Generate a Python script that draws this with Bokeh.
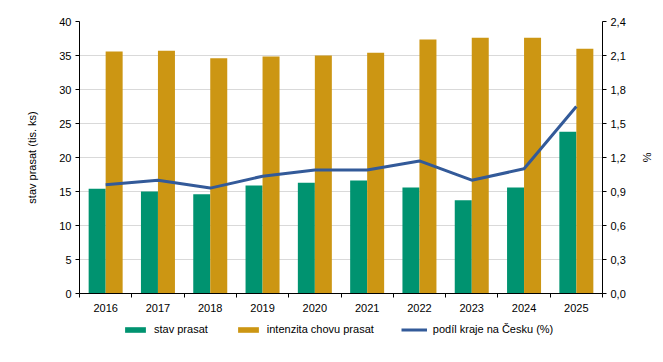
from bokeh.plotting import figure
from bokeh.layouts import column
from bokeh.models import (ColumnDataSource, Range1d, LinearAxis, FixedTicker,
                          CustomJSTickFormatter, Legend, LegendItem)
from bokeh.transform import dodge
from bokeh.embed import file_html
from bokeh.resources import INLINE

years = [2016, 2017, 2018, 2019, 2020, 2021, 2022, 2023, 2024, 2025]
stav_prasat = [15.4, 15.0, 14.6, 15.9, 16.3, 16.6, 15.6, 13.7, 15.6, 23.8]
intenzita = [35.6, 35.7, 34.6, 34.85, 35.0, 35.4, 37.35, 37.6, 37.6, 36.0]
podil = [0.96, 1.00, 0.93, 1.035, 1.09, 1.09, 1.17, 1.00, 1.10, 1.65]
left_ticks = [0, 5, 10, 15, 20, 25, 30, 35, 40]
right_ticks = [0.0, 0.3, 0.6, 0.9, 1.2, 1.5, 1.8, 2.1, 2.4]
series_names = ["stav prasat", "intenzita chovu prasat", "podíl kraje na Česku (%)"]

GREEN = "#009370"
ORANGE = "#cc9613"
BLUE = "#335a99"
FONT = "Liberation Sans"

src = ColumnDataSource(dict(year=years, stav=stav_prasat, intenz=intenzita, podil=podil))

p = figure(frame_width=523, frame_height=272, output_backend="svg", toolbar_location=None,
           x_range=Range1d(2015.5, 2025.5), y_range=Range1d(0, 40),
           min_border_left=79, min_border_right=52, min_border_top=21, min_border_bottom=28)
p.extra_y_ranges = {"pct": Range1d(0, 2.4)}

bw = 0.325
p.vbar(x=dodge("year", -bw / 2), top="stav", width=bw, source=src,
       fill_color=GREEN, line_color=None)
p.vbar(x=dodge("year", bw / 2), top="intenz", width=bw, source=src,
       fill_color=ORANGE, line_color=None)
p.line(x="year", y="podil", source=src, line_color=BLUE, line_width=3,
       y_range_name="pct")

p.outline_line_color = None
p.xgrid.grid_line_color = None
p.ygrid.grid_line_color = "#d9d9d9"
p.ygrid.ticker = FixedTicker(ticks=left_ticks)

# x axis
xa = p.xaxis[0]
xa.ticker = FixedTicker(ticks=years, minor_ticks=[y - 0.5 for y in years] + [years[-1] + 0.5])
xa.major_tick_out = 0
xa.major_tick_in = 0
xa.minor_tick_out = 4
xa.minor_tick_in = 0
xa.minor_tick_line_color = "black"
xa.major_label_standoff = 6

# left axis
ya = p.yaxis[0]
ya.ticker = FixedTicker(ticks=left_ticks)
ya.axis_label = "stav prasat (tis. ks)"
ya.axis_label_standoff = 18
ya.major_tick_out = 4
ya.major_tick_in = 0
ya.minor_tick_out = 0
ya.minor_tick_in = 0
ya.major_label_standoff = 4

# right axis
ra = LinearAxis(y_range_name="pct", ticker=FixedTicker(ticks=right_ticks),
                formatter=CustomJSTickFormatter(code="return tick.toFixed(1).replace('.', ',');"),
                axis_label="%")
ra.major_tick_out = 4
ra.major_tick_in = 0
ra.minor_tick_out = 0
ra.minor_tick_in = 0
ra.major_label_standoff = 4
ra.axis_label_standoff = 12
p.add_layout(ra, "right")

for ax in [xa, ya, ra]:
    ax.major_label_text_font = FONT
    ax.major_label_text_font_size = "11px"
    ax.major_label_text_color = "black"
    ax.axis_label_text_font = FONT
    ax.axis_label_text_font_size = "11px"
    ax.axis_label_text_font_style = "normal"
    ax.axis_label_text_color = "black"
    ax.axis_line_color = "black"
    ax.major_tick_line_color = "black"

# legend strip below the chart; its renderers use the same data, kept out of view
lf = figure(width=654, height=14, output_backend="svg", toolbar_location=None,
            min_border=0, x_axis_type=None, y_axis_type=None,
            x_range=Range1d(2030, 2031), y_range=Range1d(50, 51))
lf.outline_line_color = None
lf.grid.visible = False
l1 = lf.vbar(x="year", top="stav", width=bw, source=src, fill_color=GREEN, line_color=None)
l2 = lf.vbar(x="year", top="intenz", width=bw, source=src, fill_color=ORANGE, line_color=None)
l3 = lf.line(x="year", y="podil", source=src, line_color=BLUE, line_width=3)

legend = Legend(items=[LegendItem(label=series_names[0], renderers=[l1]),
                       LegendItem(label=series_names[1], renderers=[l2]),
                       LegendItem(label=series_names[2], renderers=[l3])],
                orientation="horizontal", location=(43, 0),
                glyph_width=26, glyph_height=7, label_standoff=6, spacing=27,
                label_height=12, label_text_font=FONT, label_text_font_size="11px",
                label_text_color="black", border_line_color=None,
                background_fill_alpha=0, padding=0, margin=0)
lf.add_layout(legend, "center")

layout = column(p, lf, spacing=0)
open("out.html", "w").write(file_html(layout, INLINE))
